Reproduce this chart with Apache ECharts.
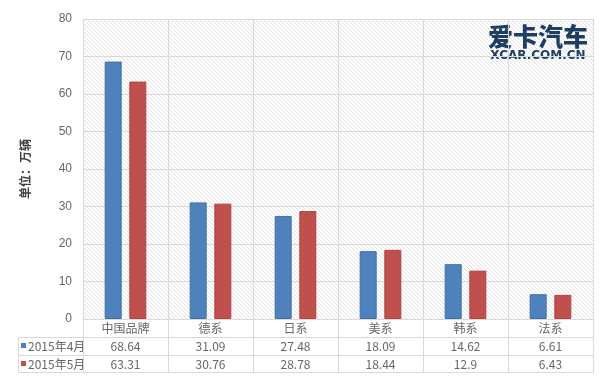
<!DOCTYPE html>
<html>
<head>
<meta charset="utf-8">
<script src="https://cdn.jsdelivr.net/npm/echarts@6/dist/echarts.min.js"></script>
<style>
    html, body { margin: 0; padding: 0; background: #fff; }
    #chart { width: 608px; height: 377px; }
</style>
</head>
<body>
<div id="chart"></div>
<script>
    // 数据
    var categories = ['中国品牌', '德系', '日系', '美系', '韩系', '法系'];
    var seriesNames = ['2015年4月', '2015年5月'];
    var aprData = [68.64, 31.09, 27.48, 18.09, 14.62, 6.61];
    var mayData = [63.31, 30.76, 28.78, 18.44, 12.9, 6.43];
    var yTicks = { min: 0, max: 80, interval: 10 };

    var FONT = '"Noto Sans CJK SC", "Noto Sans", sans-serif';
    var LINE = '#d9d9d9';
    var TXT = '#666666';
    var BLUE = '#4f81bd', RED = '#c0504d';

    //斜线底纹
    function hatch(){
        var c = document.createElement('canvas');
        c.width = 4; c.height = 4;
        var ctx = c.getContext('2d');
        ctx.fillStyle = '#ffffff';
        ctx.fillRect(0, 0, 4, 4);
        ctx.strokeStyle = '#e3e3e3';
        ctx.lineWidth = 1;
        ctx.beginPath();
        ctx.moveTo(0, 0); ctx.lineTo(4, 4);
        ctx.moveTo(-1, 3); ctx.lineTo(1, 5);
        ctx.moveTo(3, -1); ctx.lineTo(5, 1);
        ctx.stroke();
        return { image: c, repeat: 'repeat' };
    }

    //表格行（用x轴偏移实现）
    function rowAxis(offset, values){
        return {
            type: 'category',
            data: categories,
            position: 'bottom',
            offset: offset,
            axisLine: { show: true, lineStyle: { color: LINE } },
            axisTick: { show: false },
            splitLine: { show: false },
            axisLabel: {
                show: !!values,
                margin: 3,
                color: TXT,
                fontSize: 12,
                fontFamily: FONT,
                interval: 0,
                formatter: function(v, i){ return values ? String(values[i]) : ''; }
            }
        };
    }

    var chart = echarts.init(document.getElementById('chart'));
    chart.setOption({
        animation: false,
        grid: {
            left: 83, right: 15, top: 19, bottom: 58,
            show: true,
            borderWidth: 0,
            backgroundColor: hatch()
        },
        xAxis: [{
            type: 'category',
            data: categories,
            position: 'bottom',
            axisLine: { show: true, lineStyle: { color: LINE } },
            axisTick: { show: true, length: 53, lineStyle: { color: LINE } },
            splitLine: { show: true, lineStyle: { color: LINE } },
            axisLabel: { margin: 3, color: TXT, fontSize: 12, fontFamily: FONT, interval: 0 }
        },
            rowAxis(18, aprData),
            rowAxis(36, mayData),
            rowAxis(53, null)
        ],
        yAxis: {
            type: 'value',
            min: yTicks.min,
            max: yTicks.max,
            interval: yTicks.interval,
            name: '单位：万辆',
            nameLocation: 'middle',
            nameGap: 52,
            nameRotate: 90,
            nameTextStyle: { color: '#404040', fontSize: 12, fontWeight: 'bold', fontFamily: FONT },
            axisLine: { show: false },
            axisTick: { show: false },
            axisLabel: { color: TXT, fontSize: 12, margin: 11, fontFamily: 'Arial, "Liberation Sans", sans-serif' },
            splitLine: { show: true, lineStyle: { color: LINE } }
        },
        series: [{
            type: 'bar',
            name: seriesNames[0],
            data: aprData,
            barWidth: 17,
            barGap: '45%',
            itemStyle: { color: BLUE, borderColor: '#426fa3', borderWidth: 1 }
        }, {
            type: 'bar',
            name: seriesNames[1],
            data: mayData,
            barWidth: 17,
            barGap: '45%',
            itemStyle: { color: RED, borderColor: '#ad4542', borderWidth: 1 }
        }],
        graphic: [
            // 表格左栏
            { type: 'line', shape: { x1: 18, y1: 337.5, x2: 83, y2: 337.5 }, style: { stroke: LINE } },
            { type: 'line', shape: { x1: 18, y1: 355.5, x2: 83, y2: 355.5 }, style: { stroke: LINE } },
            { type: 'line', shape: { x1: 18, y1: 372.5, x2: 83, y2: 372.5 }, style: { stroke: LINE } },
            { type: 'line', shape: { x1: 18.5, y1: 337, x2: 18.5, y2: 373 }, style: { stroke: LINE } },
            { type: 'rect', shape: { x: 21, y: 343, width: 5, height: 5 }, style: { fill: BLUE } },
            { type: 'rect', shape: { x: 21, y: 361, width: 5, height: 5 }, style: { fill: RED } },
            { type: 'text', x: 28, y: 346, style: { text: seriesNames[0], fill: TXT, fontSize: 12, fontFamily: FONT, textVerticalAlign: 'middle' } },
            { type: 'text', x: 28, y: 364, style: { text: seriesNames[1], fill: TXT, fontSize: 12, fontFamily: FONT, textVerticalAlign: 'middle' } },
            // 水印
            { type: 'text', x: 538, y: 36, style: { text: '爱卡汽车', fill: '#1f3f62', fontSize: 25, fontWeight: 900, fontFamily: FONT, textAlign: 'center', textVerticalAlign: 'middle' } },
            { type: 'text', x: 538, y: 56, style: { text: 'XCAR.COM.CN', fill: '#1f3f62', fontSize: 12, fontWeight: 'bold', fontFamily: '"DejaVu Sans", sans-serif', textAlign: 'center', textVerticalAlign: 'middle' } }
        ]
    });
</script>
</body>
</html>
